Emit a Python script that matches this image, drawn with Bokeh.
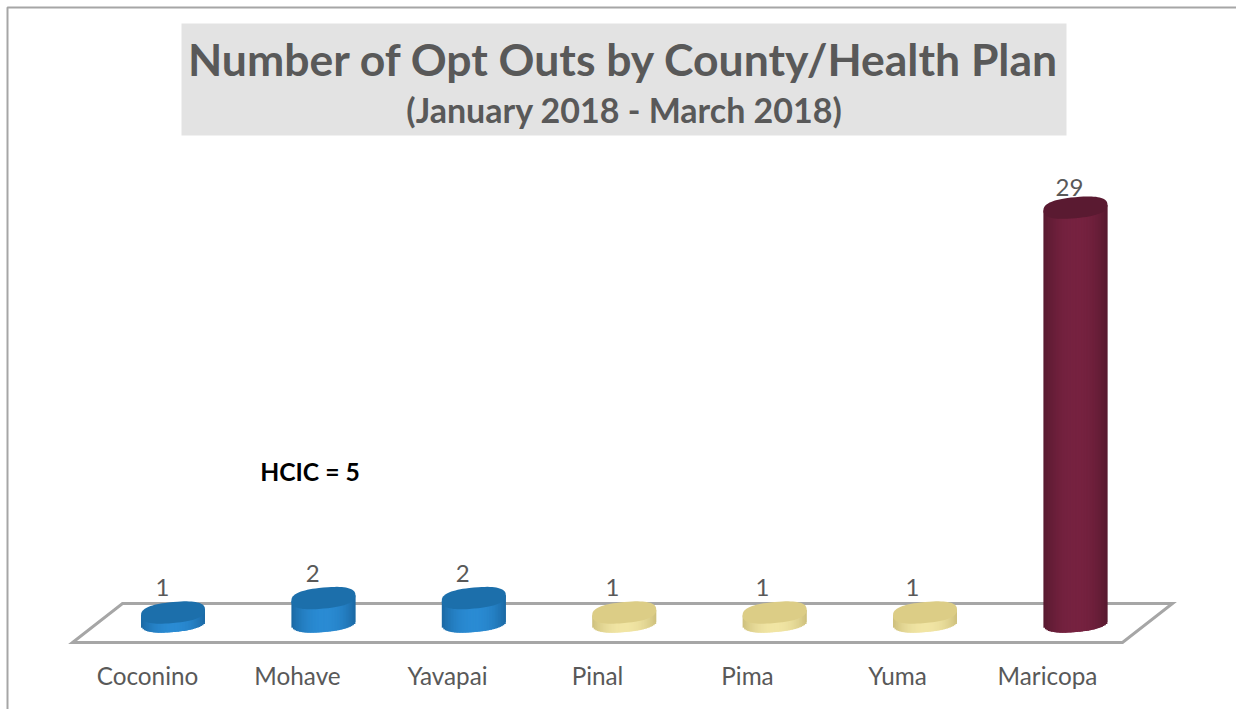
from bokeh.plotting import figure
from bokeh.models import Range1d, Label, FixedTicker
from bokeh.core.properties import value
from bokeh.embed import file_html
from bokeh.resources import INLINE
import math

counties = ["Coconino", "Mohave", "Yavapai", "Pinal", "Pima", "Yuma", "Maricopa"]
counts = [1, 2, 2, 1, 1, 1, 29]
title_main = "Number of Opt Outs by County/Health Plan"
title_sub = "(January 2018 - March 2018)"
note = "HCIC = 5"

# colour per county group: (side centre, side edge, cap)
BLUE = ("#2a8bd3", "#1b68a3", "#1c6fab")
YELLOW = ("#f1e5a4", "#cdbf7c", "#dccd86")
MAROON = ("#762240", "#571a2f", "#5a1a31")
palette = [BLUE, BLUE, BLUE, YELLOW, YELLOW, YELLOW, MAROON]

# pixel geometry of the drawing
W, H = 1236, 709
X0, STEP = 147, 150       # first category centre, spacing
Y0, UNIT = 626.5, 14.46   # pixel y of value 0, pixels per count
BAR_X0, BAR_STEP = 172.5, 150.4


def dx(px):
    return (px - X0) / STEP


def dy(py):
    return (Y0 - py) / UNIT


p = figure(width=W, height=H, output_backend="svg", toolbar_location=None,
           x_range=Range1d(dx(0), dx(W)), y_range=Range1d(dy(H), dy(0)),
           y_axis_location=None, min_border=0, outline_line_color=None,
           background_fill_color="white", border_fill_color="white")
p.grid.visible = False

FONT = "Lato"
GREY = "#595959"
LINE = "#a6a6a6"

# outer frame
p.line([dx(7), dx(7), dx(W)], [dy(H), dy(7), dy(7)], line_color=LINE, line_width=2)

# title block
p.quad(left=[dx(181)], right=[dx(1066)], top=[dy(23)], bottom=[dy(135)],
       fill_color="#e3e3e3", line_color=None)
p.add_layout(Label(x=dx(623.5), y=dy(58), text=title_main, text_font=FONT, text_font_style="bold",
                   text_font_size="44.5px", text_color=GREY, text_align="center", text_baseline="middle"))
p.add_layout(Label(x=dx(624), y=dy(109), text=title_sub, text_font=FONT, text_font_style="bold",
                   text_font_size="34px", text_color=GREY, text_align="center", text_baseline="middle"))
p.add_layout(Label(x=dx(309.5), y=dy(471), text=note, text_font=FONT, text_font_style="bold",
                   text_font_size="24.7px", text_color="#000000", text_align="center", text_baseline="middle"))

# floor
p.patch([dx(122), dx(1172), dx(1122), dx(72)], [dy(603), dy(603), dy(642), dy(642)],
        fill_color="white", line_color=LINE, line_width=3, line_join="miter")


def mix(c1, c2, t):
    a = [int(c1[i:i + 2], 16) for i in (1, 3, 5)]
    b = [int(c2[i:i + 2], 16) for i in (1, 3, 5)]
    return "#%02x%02x%02x" % tuple(round(u + (v - u) * t) for u, v in zip(a, b))


def spow(u, e):
    return math.copysign(abs(u) ** e, u)


A, B, K, E = 32.0, 10.5, 0.09, 0.8   # half width, half depth, tilt, squareness
BASE_PY = 621
for i, (v, pal) in enumerate(zip(counts, palette)):
    cx = BAR_X0 + BAR_STEP * i
    top_py = Y0 - UNIT * v
    lefts, rights, tops, bottoms, cols = [], [], [], [], []
    n = 42
    for j in range(n):
        a0 = -A + 2 * A * j / n
        a1 = -A + 2 * A * (j + 1) / n
        m = (a0 + a1) / 2
        h = B * max(0, 1 - abs(m / A) ** (2 / E)) ** (E / 2)
        lefts.append(dx(cx + a0))
        rights.append(dx(cx + min(A, a1 + 1.5)))
        tops.append(dy(top_py - K * m))
        bottoms.append(dy(BASE_PY - K * m + h))
        cols.append(mix(pal[0], pal[1], min(1, abs(m / A)) ** 2.2))
    p.quad(left=lefts, right=rights, top=tops, bottom=bottoms, fill_color=cols, line_color=None)
    ts = [2 * math.pi * k / 72 for k in range(72)]
    ex = [dx(cx + A * spow(math.cos(t), E)) for t in ts]
    ey = [dy(top_py + B * spow(math.sin(t), E) - K * A * spow(math.cos(t), E)) for t in ts]
    p.patch(ex, ey, fill_color=pal[2], line_color=None)

# value labels
p.text(x=[k + (15 + (c - 1) * 0.25) / STEP for k, c in enumerate(counts)], y=counts,
       text=[str(c) for c in counts], text_font=value(FONT), text_font_size="24px",
       text_color=GREY, text_align="center", text_baseline="middle",
       y_offset=[-25 + 0.18 * (c - 1) for c in counts])

# category axis
ax = p.xaxis[0]
ax.fixed_location = dy(652)
ax.ticker = FixedTicker(ticks=list(range(len(counties))))
ax.major_label_overrides = {k: c for k, c in enumerate(counties)}
ax.axis_line_color = None
ax.major_tick_line_color = None
ax.minor_tick_line_color = None
ax.major_label_text_font = FONT
ax.major_label_text_font_size = "24.3px"
ax.major_label_text_color = GREY
ax.major_label_standoff = 2

open("out.html", "w").write(file_html(p, INLINE))
